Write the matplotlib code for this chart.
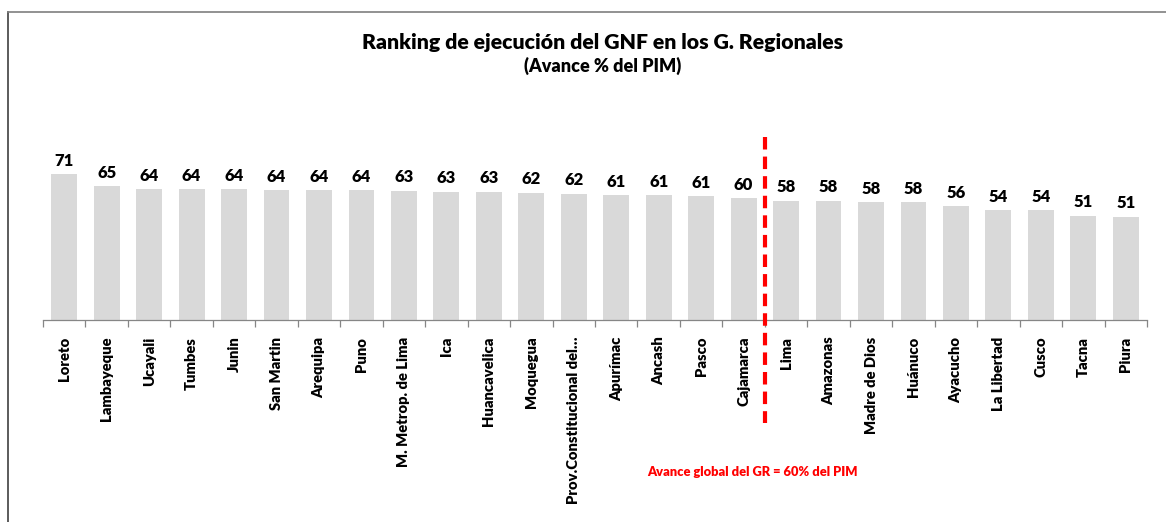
import matplotlib.pyplot as plt
from matplotlib.lines import Line2D

regiones = [
    "Loreto", "Lambayeque", "Ucayali", "Tumbes", "Junin", "San Martin",
    "Arequipa", "Puno", "M. Metrop. de Lima", "Ica", "Huancavelica",
    "Moquegua", "Prov.Constitucional del…", "Apurímac", "Ancash", "Pasco",
    "Cajamarca", "Lima", "Amazonas", "Madre de Dios", "Huánuco", "Ayacucho",
    "La Libertad", "Cusco", "Tacna", "Piura",
]
avance = [
    71.3, 65.4, 64.1, 64.1, 64.0, 63.7, 63.7, 63.6, 63.4, 62.8, 62.8,
    62.3, 61.8, 61.2, 61.2, 60.7, 59.7, 58.4, 58.4, 57.8, 57.8, 55.6,
    53.8, 53.8, 51.1, 50.6,
]
avance_global = 60
corte = 16.5  # entre Cajamarca y Lima

plt.rcParams["font.family"] = ["Lato", "DejaVu Sans"]

W, H = 1166, 522
fig = plt.figure(figsize=(W / 100, H / 100), dpi=100)
ax = fig.add_axes([43 / W, (H - 320) / H, (1147 - 43) / W, 163.4 / H])

x = range(len(regiones))
ax.bar(x, avance, width=0.61, color="#d9d9d9", zorder=2)
for xi, v in zip(x, avance):
    ax.text(xi, v + 2.6, f"{v:.0f}", ha="center", va="bottom",
            fontsize=12, fontweight="heavy", color="black")

ax.set_xlim(-0.5, len(regiones) - 0.5)
ax.set_ylim(0, 80)
ax.set_yticks([])
for s in ["top", "right", "left"]:
    ax.spines[s].set_visible(False)
ax.spines["bottom"].set_color("#868686")
ax.spines["bottom"].set_linewidth(0.9)

ax.set_xticks([i + 0.5 for i in range(-1, len(regiones))], minor=False)
ax.set_xticklabels([])
ax.tick_params(axis="x", which="major", length=5, color="#868686", width=0.9)
ax.set_xticks(list(x), minor=True)
ax.set_xticklabels(regiones, minor=True, rotation=90, fontsize=10.6,
                   fontweight="heavy", va="top", ha="center")
ax.tick_params(axis="x", which="minor", length=0, pad=12)

# linea de corte del avance global
ax.plot([corte, corte], [(320 - 137) / 2.043, (320 - 423) / 2.043],
        color="#ff0000", lw=3, ls=(0, (3, 1.7)), clip_on=False, zorder=3)

fig.text(752 / W, 1 - 472 / H, f"Avance global del GR = {avance_global}% del PIM",
         ha="center", va="center", color="#ff0000", fontsize=9.3,
         fontweight="heavy")

fig.text(603 / W, 1 - 42 / H, "Ranking de ejecución del GNF en los G. Regionales",
         ha="center", va="center", fontsize=15.3, fontweight="heavy")
fig.text(603 / W, 1 - 66 / H, "(Avance % del PIM)", ha="center", va="center",
         fontsize=13, fontweight="heavy")

# borde
bx, by = 8 / W, 1 - 12 / H
fig.add_artist(Line2D([bx, bx], [0, by], color="#404040", lw=1.2))
fig.add_artist(Line2D([bx, 1], [by, by], color="#7f7f7f", lw=1.2))

fig.savefig("out.png", dpi=100, facecolor="white")
